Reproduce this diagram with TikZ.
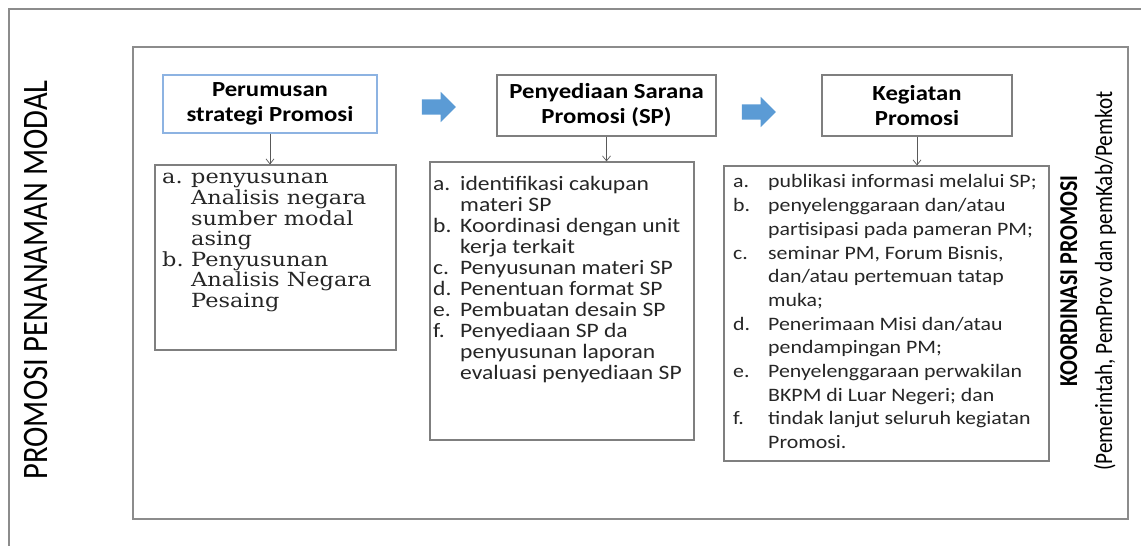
\documentclass[tikz,border=0pt]{standalone}
\usepackage{fontspec}
\usepackage{graphicx}
\setmainfont{Carlito}
\newfontfamily\calib[FakeStretch=1.15]{Carlito}
\newfontfamily\calibup{Carlito}
\newfontfamily\bookm[FakeStretch=1.15]{DejaVu Serif}
\newcommand{\wide}[1]{\scalebox{1}[1.17]{#1}}
\usetikzlibrary{arrows.meta, shapes.arrows}
\definecolor{framegray}{HTML}{8C8C8C}
\definecolor{boxgray}{HTML}{7F7F7F}
\definecolor{hdblue}{HTML}{8DB3E2}
\definecolor{flowblue}{HTML}{5B9BD5}

\begin{document}
\begin{tikzpicture}[x=1pt, y=1pt,
	hd/.style   = {rectangle, draw=boxgray, line width=1.1pt, inner sep=0, align=center, font=\calib\bfseries\fontsize{21.5}{25}\selectfont},
	lst/.style  = {rectangle, draw=boxgray, line width=1.1pt, inner sep=0},
	txt/.style  = {inner sep=0, anchor=base west, text=black!85},
	flow/.style = {single arrow, fill=flowblue, draw=none, inner sep=7.5, minimum width=30, minimum height=34, single arrow head extend=7.5},
	r/.style    = {-{Straight Barb[length=5pt, width=8pt]}, draw=black!65, line width=0.7pt},
	side/.style = {rotate=90, anchor=base, inner sep=0}
	]
	
	\useasboundingbox (0, 0) rectangle (1141, 546);
	
	% ===== ===== ===== ===== =====
	
	% Frames
	\draw[framegray, line width=1.3pt] (9, 0) -- (9, 537) -- (1141, 537);
	\draw[framegray, line width=1.3pt] (133, 27) rectangle (1128, 499);
	
	% Side texts
	\node[side, font=\calibup\fontsize{30.6}{36}\selectfont]		(prom)	at	(47, 266)	{\wide{PROMOSI PENANAMAN MODAL}};
	\node[side, font=\calibup\bfseries\fontsize{22}{26}\selectfont]	(koor)	at	(1077, 265)	{\wide{KOORDINASI PROMOSI}};
	\node[side, font=\calibup\fontsize{21.2}{26}\selectfont]		(pemr)	at	(1112, 265)	{\wide{(Pemerintah, PemProv dan pemKab/Pemkot}};
	
	% ===== ===== ===== ===== =====
	
	% Nodes
	\node[hd, draw=hdblue, minimum width=214, minimum height=58]	(p1)	at	(270, 442)		{Perumusan\\strategi Promosi};
	\node[hd, minimum width=219, minimum height=61]				(p2)	at	(606.5, 440.5)	{Penyediaan Sarana\\Promosi (SP)};
	\node[hd, minimum width=190, minimum height=61]				(p3)	at	(917, 440.5)	{Kegiatan\\Promosi};
	
	\node[flow]	(go1)	at	(435, 439)	{};
	\node[flow]	(go2)	at	(755, 434)	{};
	
	\node[lst, minimum width=241, minimum height=185]	(b1)	at	(275.5, 288.5)	{};
	\node[lst, minimum width=264, minimum height=278]	(b2)	at	(562, 245)		{};
	\node[lst, minimum width=325, minimum height=295]	(b3)	at	(886.5, 232.5)	{};
	
	% Lines
	\draw[r]	(p1.south)	--	(p1.south |- b1.north);
	\draw[r]	(p2.south)	--	(p2.south |- b2.north);
	\draw[r]	(p3.south)	--	(p3.south |- b3.north);
	
	% ===== ===== ===== ===== =====
	
	% Lists
	\node[txt, font=\bookm\fontsize{19.5}{19.5}\selectfont]	(t1)	at	(162, 362)	{%
		\begin{tabular}[t]{@{}p{29pt}@{}l@{}}
			a.	&	penyusunan		\\
				&	Analisis negara	\\
				&	sumber modal	\\
				&	asing			\\
			b.	&	Penyusunan		\\
				&	Analisis Negara	\\
				&	Pesaing
		\end{tabular}};
	
	\node[txt, font=\calib\fontsize{20.5}{21}\selectfont]	(t2)	at	(433, 355)	{%
		\begin{tabular}[t]{@{}p{27pt}@{}l@{}}
			a.	&	identifikasi cakupan	\\
				&	materi SP				\\
			b.	&	Koordinasi dengan unit	\\
				&	kerja terkait			\\
			c.	&	Penyusunan materi SP	\\
			d.	&	Penentuan format SP		\\
			e.	&	Pembuatan desain SP		\\
			f.	&	Penyediaan SP da		\\
				&	penyusunan laporan		\\
				&	evaluasi penyediaan SP
		\end{tabular}};
	
	\node[txt, font=\calib\fontsize{19}{23.7}\selectfont]	(t3)	at	(733, 358)	{%
		\begin{tabular}[t]{@{}p{35pt}@{}l@{}}
			a.	&	publikasi informasi melalui SP;	\\
			b.	&	penyelenggaraan dan/atau		\\
				&	partisipasi pada pameran PM;	\\
			c.	&	seminar PM, Forum Bisnis,		\\
				&	dan/atau pertemuan tatap		\\
				&	muka;							\\
			d.	&	Penerimaan Misi dan/atau		\\
				&	pendampingan PM;				\\
			e.	&	Penyelenggaraan perwakilan		\\
				&	BKPM di Luar Negeri; dan		\\
			f.	&	tindak lanjut seluruh kegiatan	\\
				&	Promosi.
		\end{tabular}};
	
\end{tikzpicture}
\end{document}
